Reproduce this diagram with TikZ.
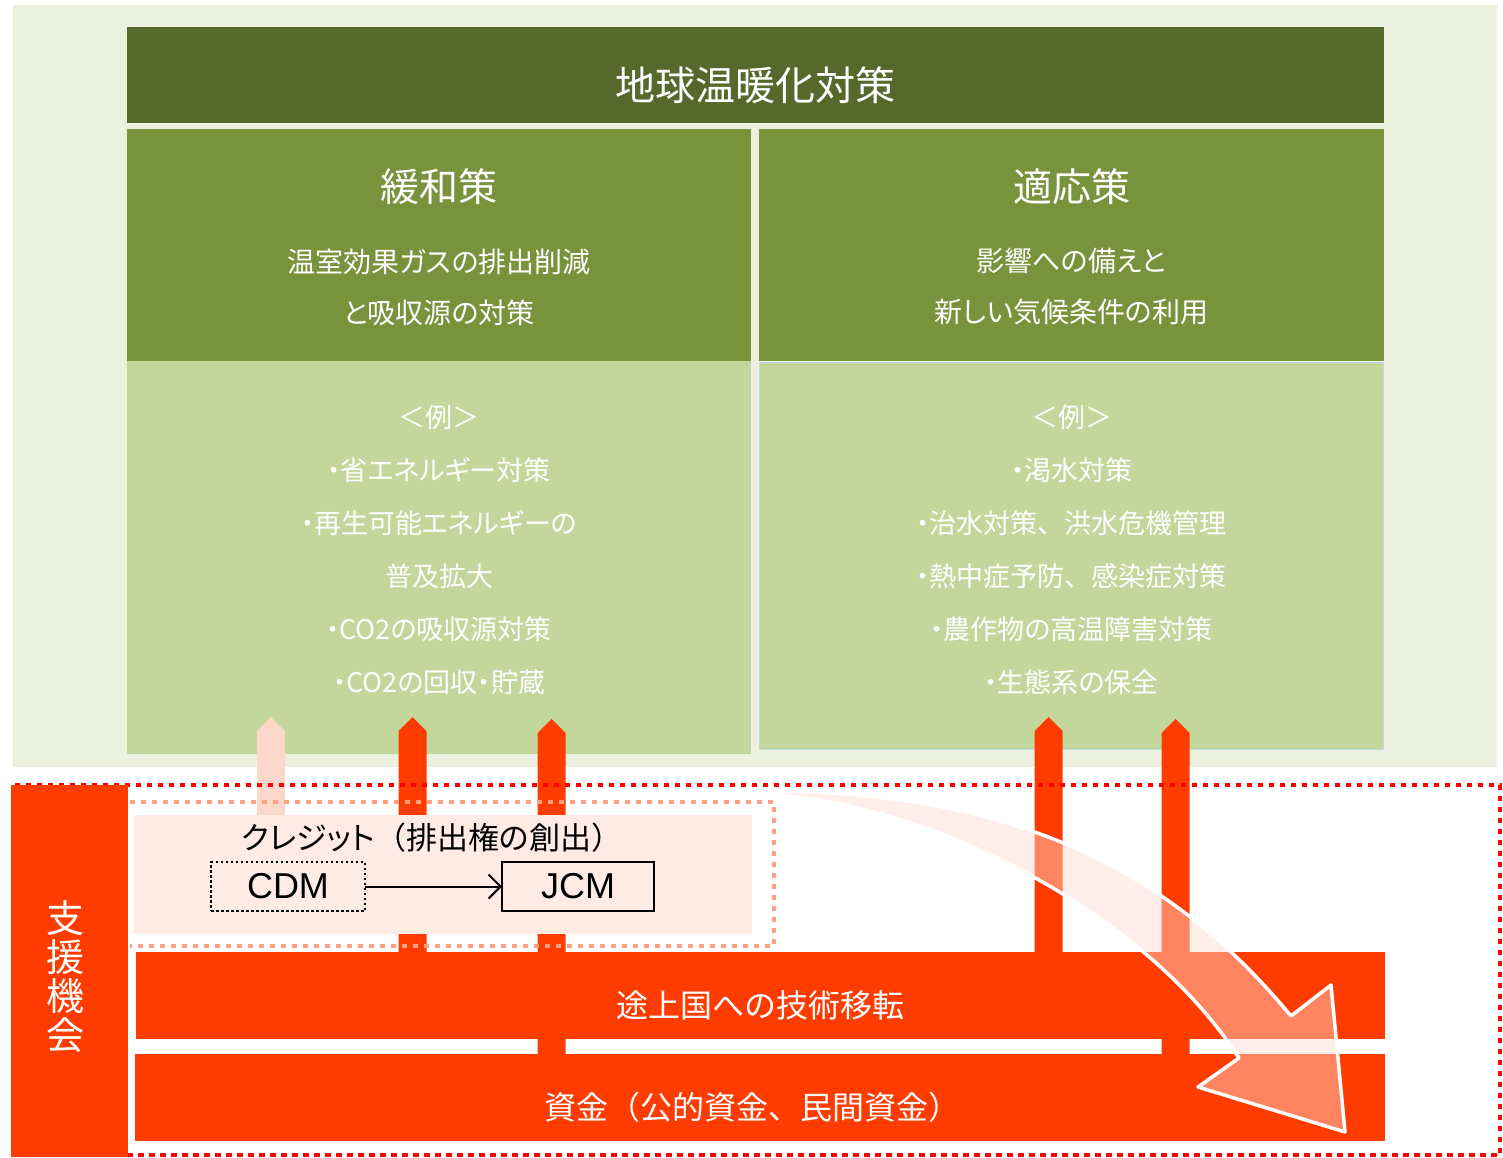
\documentclass[tikz,border=0pt]{standalone}
\usepackage{fontspec}
\setmainfont{Noto Sans CJK JP}[RawFeature=+palt]
\newfontfamily\fullw{Noto Sans CJK JP}
\newfontfamily\latinf{Liberation Sans}
\newcommand\lpar{{\fullw （}}
\newcommand\rpar{{\fullw ）}}
\newcommand\tou{{\fullw 、}}
\usetikzlibrary{arrows.meta}
\definecolor{bglight}{HTML}{EBF1DE}
\definecolor{olivedark}{HTML}{55692C}
\definecolor{olivemid}{HTML}{77933C}
\definecolor{olivelight}{HTML}{C3D69B}
\definecolor{bluethin}{HTML}{B7DEE8}
\definecolor{redorange}{HTML}{FF3C00}
\definecolor{palearrow}{HTML}{FCD8CB}
\definecolor{creditfill}{HTML}{FDEBE4}
\definecolor{salmondot}{HTML}{FFA083}
\definecolor{reddot}{HTML}{FF0000}
\definecolor{bigfill}{HTML}{FFDAD1}
\newcommand\upblock[4]{%
  \fill[#4] (#1-14,#3) -- (#1-14,#2+14) -- (#1,#2) -- (#1+14,#2+14) -- (#1+14,#3) -- cycle;}
\begin{document}
\begin{tikzpicture}[x=1pt,y=-1pt,
  box/.style={inner sep=0pt,outer sep=0pt,anchor=north west},
  wtext/.style={text=white,inner sep=0pt,align=center},
  headtxt/.style={wtext,font=\fontsize{39}{44}\selectfont},
  subtxt/.style={wtext,font=\fontsize{28}{51}\selectfont},
  bodytxt/.style={wtext,font=\fontsize{27}{53}\selectfont},
  bartxt/.style={wtext,font=\fontsize{32}{36}\selectfont},
  latinbox/.style={inner sep=0pt,outer sep=0pt,line width=2pt,minimum height=49pt,font=\latinf\fontsize{36}{40}\selectfont},
  bigarrow/.style={draw=white,line width=3.5pt,line join=round,fill=bigfill,fill opacity=0.46}]
\useasboundingbox (0,0) rectangle (1503,1158);
% upper background
\fill[bglight] (13,5) rectangle (1497,767);
% boxes
\node[box,fill=olivedark,minimum width=1257pt,minimum height=96pt] (title) at (127,27) {};
\node[box,fill=olivemid,minimum width=624pt,minimum height=232pt] (lhead) at (127,129) {};
\node[box,fill=olivemid,minimum width=625pt,minimum height=232pt] (rhead) at (759,129) {};
\node[box,fill=olivelight,minimum width=624pt,minimum height=393pt] (lbody) at (127,361) {};
\node[box,fill=olivelight,draw=bluethin,line width=1.5pt,minimum width=624pt,minimum height=387pt] (rbody) at (759.5,362.5) {};
% texts upper
\node[wtext,font=\fontsize{40}{44}\selectfont] (titletxt) at (755.5,85) {地球温暖化対策};
\node[headtxt] (lheadtxt) at (439,187) {緩和策};
\node[headtxt] (rheadtxt) at (1071.5,187) {適応策};
\node[subtxt] (lsub) at (439,287.5) {温室効果ガスの排出削減\\と吸収源の対策};
\node[subtxt] (rsub) at (1071.5,286.5) {影響への備えと\\新しい気候条件の利用};
\node[bodytxt] (lex) at (439,549.5) {＜例＞\\・省エネルギー対策\\・再生可能エネルギーの\\普及拡大\\・CO2の吸収源対策\\・CO2の回収・貯蔵};
\node[bodytxt] (rex) at (1071.5,549.5) {＜例＞\\・渇水対策\\・治水対策\tou 洪水危機管理\\・熱中症予防\tou 感染症対策\\・農作物の高温障害対策\\・生態系の保全};
% vertical block arrows
\upblock{271}{717}{820}{palearrow}
\upblock{412.5}{717}{955}{redorange}
\upblock{551.5}{719}{1057}{redorange}
\upblock{1048.5}{717}{955}{redorange}
\upblock{1175.5}{719}{1057}{redorange}
% red dotted frame
\draw[reddot,line width=4.7pt,dash pattern=on 5.5pt off 5.5pt] (13,785) rectangle (1500,1155);
% side bar
\node[box,fill=redorange,minimum width=117pt,minimum height=372pt] (side) at (11,785) {};
\node[wtext,font=\fontsize{38}{39}\selectfont] (sidetxt) at (65,977) {支\\援\\機\\会};
% credit box
\node[box,fill=creditfill,minimum width=618pt,minimum height=119pt] (credit) at (134,815) {};
\draw[salmondot,line width=4pt,dash pattern=on 5pt off 6pt] (130,802) -- (774,802) -- (774,946) -- (130,946);
\node[inner sep=0pt,font=\fontsize{31}{34}\selectfont] (credittxt) at (432,838) {クレジット\lpar 排出権の創出\rpar};
\node[latinbox,draw=black,dash pattern=on 2.5pt off 2.5pt,minimum width=154pt] (cdm) at (288,886.5) {CDM};
\node[latinbox,draw=black,minimum width=152pt] (jcm) at (578,886.5) {JCM};
\draw[line width=2pt,-{Straight Barb[length=12pt,width=24pt,line width=2pt]}] (cdm.east) -- (jcm.west);
% bars
\node[box,fill=redorange,minimum width=1249pt,minimum height=87pt] (tech) at (136,952) {};
\node[box,fill=redorange,minimum width=1250pt,minimum height=87pt] (fund) at (135,1054) {};
\node[bartxt] (techtxt) at (760.5,1005) {途上国への技術移転};
\node[bartxt] (fundtxt) at (752,1107) {資金\lpar 公的資金\tou 民間資金\rpar};
% big curved arrow
\draw[bigarrow] (779,791) .. controls (1020,795) and (1170,870) .. (1291,1016)
  -- (1331,985) -- (1345,1132) -- (1198,1087) -- (1239,1058)
  .. controls (1150,920) and (950,810) .. (779,795) -- cycle;
\end{tikzpicture}
\end{document}
